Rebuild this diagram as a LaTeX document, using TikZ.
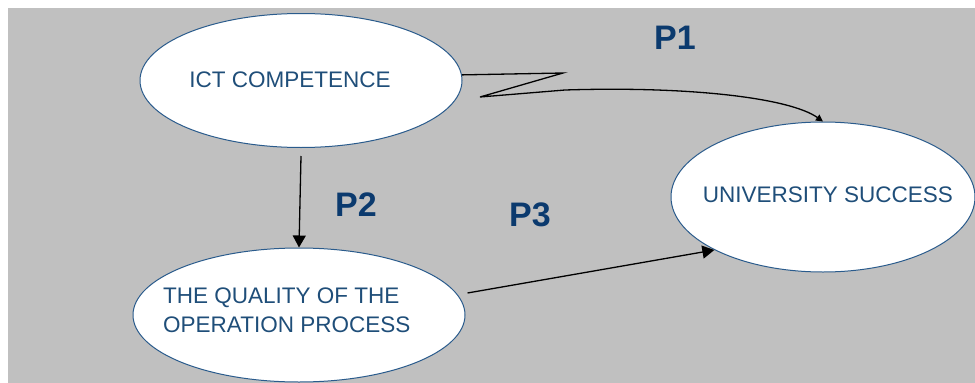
\documentclass[tikz,border=0pt]{standalone}
\usepackage{fontspec}
\setmainfont{Liberation Sans}
\usetikzlibrary{shapes.geometric,arrows.meta}
\definecolor{bggray}{HTML}{C0C0C0}
\definecolor{ovalblue}{HTML}{2A5B8C}
\definecolor{txtblue}{HTML}{1F4E79}
\definecolor{pblue}{HTML}{0B3A6E}
\tikzset{
  oval/.style={ellipse, draw=ovalblue, fill=white, line width=1pt, inner sep=0pt},
  otext/.style={text=txtblue, font=\fontsize{22.5}{29}\selectfont, inner sep=0pt, align=left},
  plabel/.style={text=pblue, font=\fontsize{34}{34}\selectfont\bfseries, inner sep=0pt},
  arr/.style={draw=black, line width=1.3pt, -{Triangle[width=13pt,length=12pt]}},
  arrsmall/.style={draw=black, line width=1.3pt, line join=miter, -{Triangle[width=7pt,length=7pt]}}
}
\begin{document}
\begin{tikzpicture}[x=1pt,y=-1pt]
\useasboundingbox (0,0) rectangle (975,383);
\fill[white] (0,0) rectangle (975,383);
\fill[bggray] (8,8) rectangle (975,383);
\begin{scope}
\clip (8,8) rectangle (975,383);
\node[oval, minimum width=322pt, minimum height=134pt] (ict) at (301,80.5) {};
\node[oval, minimum width=332pt, minimum height=134pt] (qual) at (299,315) {};
\node[oval, minimum width=304pt, minimum height=150pt] (uni) at (823,197) {};
\end{scope}
\node[otext] (ictt) at (290,80) {ICT COMPETENCE};
\node[otext, anchor=base west] (qualt) at (163,332) {THE QUALITY OF THE\\OPERATION PROCESS};
\node[otext] (unit) at (828,195) {UNIVERSITY SUCCESS};
\node[plabel] (p1) at (675,38) {P1};
\node[plabel] (p2) at (356,205) {P2};
\node[plabel] (p3) at (530,215) {P3};
% P2
\draw[arr] ([yshift=-8pt]ict.south) -- (qual.north);
% P3
\draw[arr] ([xshift=2pt,yshift=22pt]qual.east) -- (uni.206);
% P1
\draw[arrsmall] (ict.2.5) -- (563,73) -- (480,97) -- (565,90)
  .. controls (690,86) and (790,98) .. (uni.north);
\end{tikzpicture}
\end{document}
